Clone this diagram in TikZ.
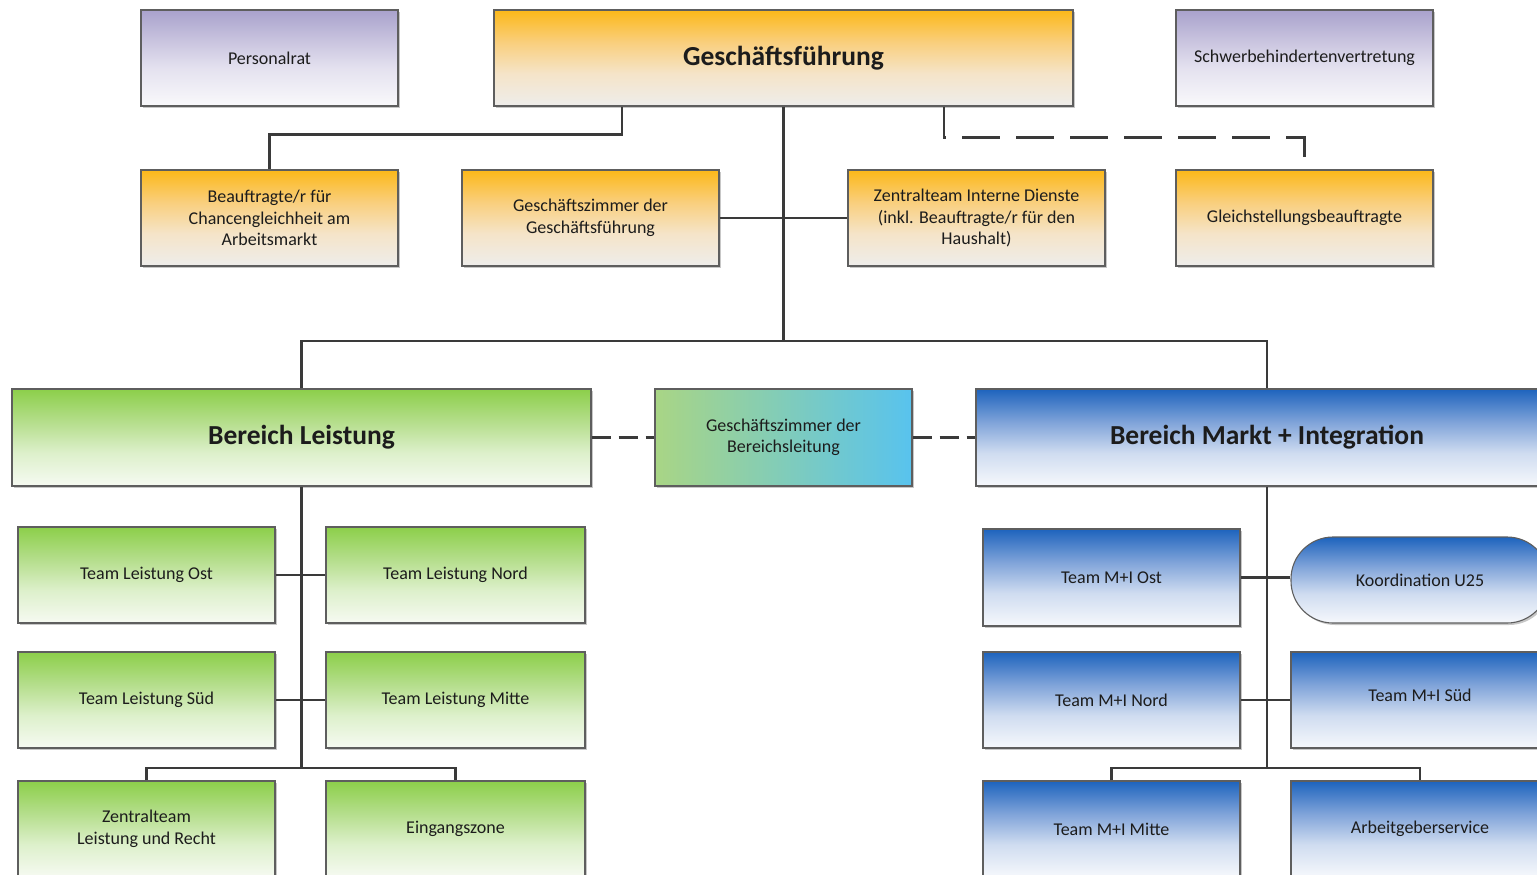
\documentclass[tikz,border=0pt]{standalone}
\usepackage{fontspec}
\setmainfont{Carlito}
\usetikzlibrary{shadows,calc}

\definecolor{linecol}{HTML}{3A3A3A}
\definecolor{framecol}{HTML}{5E5E5E}
\definecolor{txtcol}{HTML}{1C1C1C}

\definecolor{orA}{HTML}{EEEDEB}
\definecolor{orB}{HTML}{F5E4C8}
\definecolor{orC}{HTML}{F9CF7E}
\definecolor{orD}{HTML}{FCB819}
\definecolor{grA}{HTML}{F6FAF2}
\definecolor{grB}{HTML}{DDF0CB}
\definecolor{grC}{HTML}{B5DE8C}
\definecolor{grD}{HTML}{8CCF4A}
\definecolor{blA}{HTML}{F6F8FC}
\definecolor{blB}{HTML}{CFDCF0}
\definecolor{blC}{HTML}{7FA3D9}
\definecolor{blD}{HTML}{1D63BD}
\definecolor{puA}{HTML}{F9F9FB}
\definecolor{puB}{HTML}{E4E1EF}
\definecolor{puD}{HTML}{A9A2CC}
\definecolor{mixL}{HTML}{A9D585}
\definecolor{mixR}{HTML}{58C3EE}

% vertical shadings: the box spans 25bp (bottom) to 75bp (top)
\pgfdeclareverticalshading{orangesh}{100bp}{color(0bp)=(orA); color(25bp)=(orA);
  color(42bp)=(orB); color(58bp)=(orC); color(75bp)=(orD); color(100bp)=(orD)}
\pgfdeclareverticalshading{greensh}{100bp}{color(0bp)=(grA); color(25bp)=(grA);
  color(42bp)=(grB); color(58bp)=(grC); color(75bp)=(grD); color(100bp)=(grD)}
\pgfdeclareverticalshading{bluesh}{100bp}{color(0bp)=(blA); color(25bp)=(blA);
  color(42bp)=(blB); color(58bp)=(blC); color(75bp)=(blD); color(100bp)=(blD)}
\pgfdeclareverticalshading{purplesh}{100bp}{color(0bp)=(puA); color(25bp)=(puA);
  color(45bp)=(puB); color(75bp)=(puD); color(100bp)=(puD)}

\tikzset{
  box/.style={draw=framecol, line width=1.1pt, inner sep=0pt, align=center, text=txtcol,
    font=\fontsize{18}{21.5}\selectfont,
    drop shadow={shadow xshift=2pt, shadow yshift=-2pt, fill=black, opacity=0.22}},
  small/.style={box, minimum width=257pt, minimum height=96pt},
  big/.style={box, minimum height=97pt, font=\fontsize{27.5}{31}\selectfont\bfseries},
  orangebox/.style={shading=orangesh},
  greenbox/.style={shading=greensh},
  bluebox/.style={shading=bluesh},
  purplebox/.style={shading=purplesh},
  conn/.style={draw=linecol, line width=2.2pt},
  longdash/.style={conn, dash pattern=on 38pt off 16pt, dash phase=5pt},
  shortdash/.style={conn, dash pattern=on 19pt off 8pt}
}

\begin{document}
\begin{tikzpicture}[x=1pt, y=-1pt]
\useasboundingbox (0,0) rectangle (1537,875);
\clip (0,0) rectangle (1537,875);
\fill[white] (0,0) rectangle (1537,875);

% top row
\node[small, purplebox] (pr)  at (269.5,58) {Personalrat};
\node[big, orangebox, minimum width=579pt, minimum height=96pt] (gf) at (783.5,58) {Geschäftsführung};
\node[small, purplebox] (sbv) at (1304.5,58) {Schwerbehindertenvertretung};

% staff units
\node[small, orangebox] (bcg) at (269.5,218) {Beauftragte/r für\\Chancengleichheit am\\Arbeitsmarkt};
\node[small, orangebox] (gzg) at (590.5,218) {Geschäftszimmer der\\Geschäftsführung};
\node[small, orangebox] (zid) at (976.5,218) {Zentralteam Interne Dienste\\(inkl. Beauftragte/r für den\\Haushalt)};
\node[small, orangebox] (gsb) at (1304.5,218) {Gleichstellungsbeauftragte};

% divisions
\node[big, greenbox, minimum width=579pt] (bl) at (301.5,437.5) {Bereich Leistung};
\node[small, minimum height=97pt, left color=mixL, right color=mixR] (gzb) at (783.5,437.5) {Geschäftszimmer der\\Bereichsleitung};
\node[big, bluebox, minimum width=582pt] (bmi) at (1267,437.5) {Bereich Markt + Integration};

% teams Leistung
\node[small, greenbox] (tlo) at (146.5,575) {Team Leistung Ost};
\node[small, greenbox, minimum width=259pt] (tln) at (455.5,575) {Team Leistung Nord};
\node[small, greenbox] (tls) at (146.5,700) {Team Leistung Süd};
\node[small, greenbox, minimum width=259pt] (tlm) at (455.5,700) {Team Leistung Mitte};
\node[small, greenbox] (ztl) at (146.5,829) {Zentralteam\\Leistung und Recht};
\node[small, greenbox, minimum width=259pt] (ez) at (455.5,829) {Eingangszone};

% teams Markt + Integration
\node[small, bluebox, minimum height=97pt] (tmo) at (1111.5,577.5) {Team M+I Ost};
\node[small, bluebox, minimum width=258pt, minimum height=86pt, rounded corners=42pt] (k25) at (1420,580) {Koordination U25};
\node[small, bluebox] (tmn) at (1111.5,700) {Team M+I Nord};
\node[small, bluebox, minimum width=258pt] (tms) at (1420,700) {\raisebox{10pt}{Team M+I Süd}};
\node[small, bluebox] (tmm) at (1111.5,829) {Team M+I Mitte};
\node[small, bluebox, minimum width=258pt] (ags) at (1420,829) {Arbeitgeberservice};

% junction points
\coordinate (hub) at (783.5,341);
\coordinate (lj) at (301.5,768);
\coordinate (rj) at (1267,768);

% management level connectors
\draw[conn] ([xshift=-161.5pt]gf.south) -- ++(0,28) -| (bcg.north);
\draw[conn] (gf.south) -- (hub);
\draw[conn] (gzg.east) -- (zid.west);
\draw[longdash] ([xshift=160.5pt]gf.south) -- ++(0,31) -| (gsb.north);
\draw[conn] (bl.north) |- (hub) -| (bmi.north);
\draw[shortdash] (bl.east) -- (gzb.west);
\draw[shortdash] (gzb.east) -- (bmi.west);

% Leistung tree
\draw[conn] (bl.south) -- (lj);
\draw[conn] (tlo.east) -- (tln.west);
\draw[conn] (tls.east) -- (tlm.west);
\draw[conn] (ztl.north) |- (lj) -| (ez.north);

% Markt + Integration tree
\draw[conn] (bmi.south) -- (rj);
\draw[conn] (tmo.east) -- (tmo.east -| k25.west);
\draw[conn] (tmn.east) -- (tms.west);
\draw[conn] (tmm.north) |- (rj) -| (ags.north);
\end{tikzpicture}
\end{document}
